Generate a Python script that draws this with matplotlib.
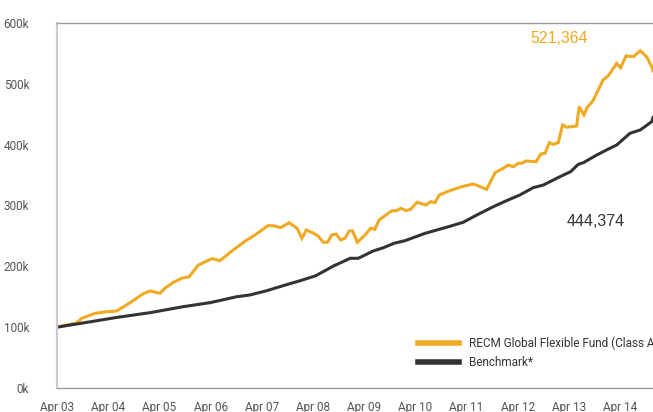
import matplotlib
matplotlib.use("Agg")
import matplotlib.pyplot as plt
from matplotlib.ticker import FuncFormatter

# months since Apr 2003, values in thousands
fund_months = [0, 4.6, 5.8, 8.9, 11.2, 14, 17.5, 20.1, 21.8, 24.1, 25.3, 27.3, 29.2, 31,
               33.1, 36.3, 38.2, 41.3, 44.5, 46.4, 49.5, 51.1, 52.4, 54.4, 56.3, 57.4,
               58.4, 59.9, 61.2, 62.4, 63.4, 64.4, 65.4, 66.5, 67.5, 68.5, 69.3, 70.4,
               72.2, 73.5, 74.5, 75.5, 78.5, 79.6, 80.6, 81.8, 82.9, 84.4, 86.5, 87.6,
               88.6, 89.6, 92.1, 94.9, 97.6, 100.7, 102.7, 104.6, 105.8, 107, 108.1,
               108.9, 109.9, 112.3, 113.4, 114.4, 115.4, 116.3, 117.5, 118.5, 119.5,
               121.8, 122.4, 123.5, 124.3, 125.6, 128, 129.2, 131.2, 132.1, 133.4,
               135.1, 136.7, 138.2, 139.4, 139.7]
fund_values = [100, 107, 114.5, 122.8, 125, 126.6, 141.9, 154.5, 159.5, 155.7, 163.9,
               173.8, 180.3, 183, 202, 212.6, 209.3, 226.9, 243.3, 251.5, 267, 266.3,
               263.5, 271.7, 262.5, 246, 259.7, 255.3, 249.9, 239.5, 239.5, 251.5,
               253.1, 243.3, 246.1, 258.1, 258.1, 239.5, 251.5, 262.5, 260.8, 276.2,
               291.5, 291.5, 295.4, 291.5, 293.8, 305.3, 300.8, 306.3, 304.6, 317.3,
               324.4, 331, 335.4, 326.7, 354, 361.2, 366.6, 363.8, 369.4, 369.4, 373.2,
               372, 384.7, 385.8, 403.3, 400.6, 403.3, 432.4, 428.6, 430.7, 462.4,
               448.8, 461.5, 471.8, 506.4, 513, 533.6, 526.5, 545.8, 544.6, 554.5,
               544.6, 528.2, 521.364]

bench_months = [0, 6.2, 14, 21.8, 29.6, 35.9, 42.1, 45.2, 49.2, 53, 57, 60.5, 62.4,
                64.8, 66.7, 68.7, 70.6, 72.2, 74.1, 76.5, 79, 81.6, 83.5, 86.3, 89,
                92.1, 95.2, 98.4, 102.3, 105.4, 108.5, 111.6, 114, 117.9, 120.4, 122.2,
                123.4, 126.1, 128.8, 131.2, 134.3, 136.7, 139.4, 139.7]
bench_values = [100, 107, 116, 123.8, 133.7, 140.3, 150, 152.9, 160, 168.2, 176.4,
                184.1, 191.2, 200.6, 206.6, 213.2, 213.2, 218.6, 225.2, 230.6, 237.9,
                242.2, 247.1, 254.3, 259.7, 265.8, 272.4, 284.4, 298.1, 308, 317.3,
                329.3, 333.7, 347.4, 355.7, 367.8, 370.4, 381.4, 391.3, 399.5, 418.7,
                424.1, 437.8, 444.374]

tick_labels = ["Apr 03", "Apr 04", "Apr 05", "Apr 06", "Apr 07", "Apr 08", "Apr 09",
               "Apr 10", "Apr 11", "Apr 12", "Apr 13", "Apr 14"]
series_names = ["RECM Global Flexible Fund (Class A)", "Benchmark*"]

GOLD = "#EFA922"
DARK = "#333333"
narrow = ["Roboto", "DejaVu Sans"]

fig = plt.figure(figsize=(6.53, 4.12), dpi=100)
ax = fig.add_axes([57 / 653, 24 / 412, 1 - 57 / 653, 365 / 412])

ax.plot(fund_months, fund_values, color=GOLD, lw=2.2, label=series_names[0],
        solid_joinstyle="miter")
ax.plot(bench_months, bench_values, color=DARK, lw=2.2, label=series_names[1],
        solid_joinstyle="miter")

ax.set_xlim(0, fund_months[-1])
ax.set_ylim(0, 600)
ax.set_xticks([12 * i for i in range(len(tick_labels))])
ax.set_xticklabels(tick_labels)
ax.set_yticks(range(0, 601, 100))
ax.yaxis.set_major_formatter(FuncFormatter(lambda v, _: f"{int(v)}k"))
ax.tick_params(length=0, labelsize=8.5, labelcolor="#555555")
ax.tick_params(axis="x", pad=9.5)
ax.tick_params(axis="y", pad=20)
for lbl in ax.get_xticklabels() + ax.get_yticklabels():
    lbl.set_family(narrow)

ax.spines["right"].set_visible(False)
ax.spines["left"].set_color("#cccccc")
ax.spines["left"].set_linewidth(1.6)
ax.spines["bottom"].set_color("#999999")
ax.spines["top"].set_color("#999999")
ax.spines["bottom"].set_linewidth(1.0)
ax.spines["top"].set_linewidth(1.0)

ax.text(110.9, 574, f"{fund_values[-1] * 1000:,.0f}", color=GOLD,
        fontsize=11.5, family="Liberation Sans", va="center")
ax.text(119.5, 274, f"{bench_values[-1] * 1000:,.0f}", color=DARK,
        fontsize=11.5, family="Liberation Sans", va="center")

leg = ax.legend(loc="upper left", bbox_to_anchor=(418 / 653, 1 - 337 / 412),
                bbox_transform=fig.transFigure, frameon=False, borderpad=0,
                borderaxespad=0, handlelength=3.5, handletextpad=0.8,
                labelspacing=0.5, prop={"family": narrow, "size": 8.5})
for line in leg.get_lines():
    line.set_linewidth(4)
for t in leg.get_texts():
    t.set_color(DARK)

fig.savefig("out.png", dpi=100)
